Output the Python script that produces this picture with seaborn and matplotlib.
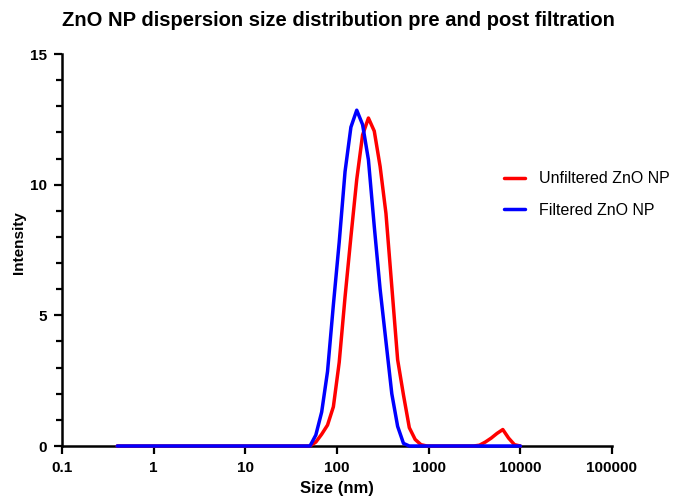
import matplotlib
matplotlib.use("Agg")
import matplotlib.pyplot as plt
import matplotlib.ticker as mticker
import seaborn as sns
import pandas as pd

# Size bins (nm)
sizes = [0.4, 0.4632, 0.5365, 0.6213, 0.7195, 0.8332, 0.9649, 1.117, 1.294, 1.499,
         1.736, 2.010, 2.328, 2.696, 3.122, 3.615, 4.187, 4.849, 5.615, 6.503,
         7.531, 8.721, 10.10, 11.70, 13.54, 15.69, 18.17, 21.04, 24.36, 28.21,
         32.67, 37.84, 43.82, 50.75, 58.77, 68.06, 78.82, 91.28, 105.7, 122.4,
         141.8, 164.2, 190.1, 220.2, 255.0, 295.3, 342.0, 396.1, 458.7, 531.2,
         615.1, 712.4, 825.0, 955.4, 1106, 1281, 1484, 1718, 1990, 2305,
         2669, 3091, 3580, 4145, 4801, 5560, 6439, 7456, 8635, 10000]

unfiltered = [0, 0, 0, 0, 0, 0, 0, 0, 0, 0,
              0, 0, 0, 0, 0, 0, 0, 0, 0, 0,
              0, 0, 0, 0, 0, 0, 0, 0, 0, 0,
              0, 0, 0, 0, 0.15, 0.45, 0.8, 1.5, 3.2, 5.7,
              8.0, 10.2, 11.9, 12.55, 12.05, 10.7, 8.9, 6.1, 3.3, 1.95,
              0.7, 0.25, 0.05, 0, 0, 0, 0, 0, 0, 0,
              0, 0, 0.03, 0.15, 0.3, 0.48, 0.63, 0.3, 0.05, 0]

filtered = [0, 0, 0, 0, 0, 0, 0, 0, 0, 0,
            0, 0, 0, 0, 0, 0, 0, 0, 0, 0,
            0, 0, 0, 0, 0, 0, 0, 0, 0, 0,
            0, 0, 0, 0, 0.42, 1.3, 2.85, 5.4, 7.8, 10.5,
            12.2, 12.85, 12.3, 10.95, 8.4, 6.0, 4.0, 2.0, 0.75, 0.1,
            0, 0, 0, 0, 0, 0, 0, 0, 0, 0,
            0, 0, 0, 0, 0, 0, 0, 0, 0, 0]

series_names = ["Unfiltered ZnO NP", "Filtered ZnO NP"]
colors = ["#FF0000", "#0000FF"]

x_ticks = [0.1, 1, 10, 100, 1000, 10000, 100000]
x_tick_labels = ["0.1", "1", "10", "100", "1000", "10000", "100000"]
y_ticks = [0, 5, 10, 15]

df = pd.DataFrame({
    "Size (nm)": sizes * 2,
    "Intensity": unfiltered + filtered,
    "Sample": [series_names[0]] * len(sizes) + [series_names[1]] * len(sizes),
})

sns.set_style("ticks")
plt.rcParams["font.family"] = ["Liberation Sans", "DejaVu Sans"]
plt.rcParams["text.color"] = "black"
plt.rcParams["axes.labelcolor"] = "black"
plt.rcParams["xtick.color"] = "black"
plt.rcParams["ytick.color"] = "black"

fig = plt.figure(figsize=(6.76, 5.01), dpi=100)
ax = fig.add_axes([62 / 676, 1 - 446 / 501, 550 / 676, 392 / 501])

sns.lineplot(data=df, x="Size (nm)", y="Intensity", hue="Sample",
             hue_order=series_names, palette=colors, linewidth=2.5,
             ax=ax, clip_on=False, zorder=3, sort=False)

ax.set_xscale("log")
ax.set_xlim(0.1, 100000)
ax.set_ylim(0, 15)
ax.set_xticks(x_ticks)
ax.set_xticklabels(x_tick_labels)
ax.xaxis.set_minor_locator(mticker.NullLocator())
ax.set_yticks(y_ticks)
ax.yaxis.set_minor_locator(mticker.MultipleLocator(1))

for s in ["top", "right"]:
    ax.spines[s].set_visible(False)
for s in ["left", "bottom"]:
    ax.spines[s].set_linewidth(1.8)
    ax.spines[s].set_color("black")

ax.tick_params(axis="both", which="major", length=6, width=1.6, color="black",
               labelcolor="black", labelsize=11, pad=5)
ax.tick_params(axis="y", which="minor", length=4, width=1.6, color="black")
for lab in ax.get_xticklabels() + ax.get_yticklabels():
    lab.set_fontweight("bold")

ax.set_xlabel("Size (nm)", fontsize=12, fontweight="bold", labelpad=4, color="black")
ax.set_ylabel("Intensity", fontsize=11, fontweight="bold", labelpad=4, color="black")
ax.yaxis.set_label_coords(-0.066, 0.52)
fig.text(338 / 676, 1 - 20 / 501,
         "ZnO NP dispersion size distribution pre and post filtration",
         fontsize=14.5, fontweight="bold", ha="center", va="center", color="black")

leg = ax.legend(loc="upper left", bbox_to_anchor=(0.7245, 0.687),
                bbox_transform=fig.transFigure, frameon=False, fontsize=11.5,
                handlelength=1.3, handletextpad=0.9, labelspacing=1.05)
for line in leg.get_lines():
    line.set_linewidth(2.5)
for t in leg.get_texts():
    t.set_color("black")

fig.savefig("out.png", dpi=100)
